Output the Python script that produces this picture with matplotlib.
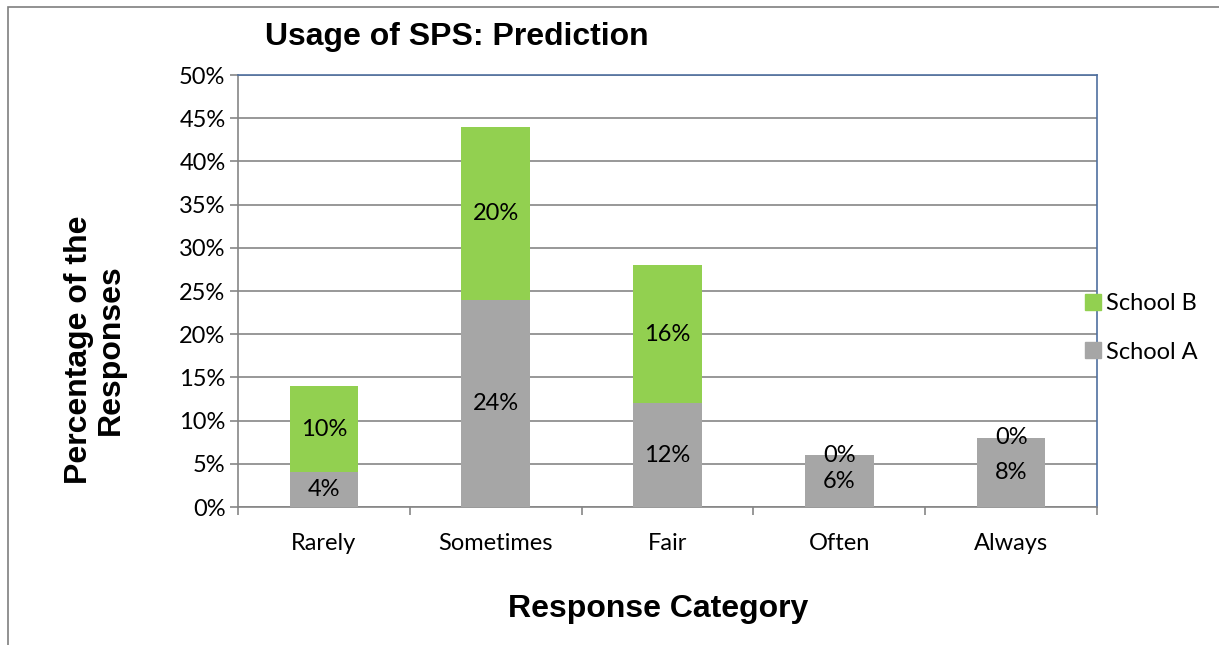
import matplotlib
matplotlib.use("Agg")
import matplotlib.pyplot as plt
import numpy as np
from matplotlib.patches import Rectangle
from matplotlib.lines import Line2D

categories = ["Rarely", "Sometimes", "Fair", "Often", "Always"]
school_a = [4, 24, 12, 6, 8]
school_b = [10, 20, 16, 0, 0]
yticks = [0, 5, 10, 15, 20, 25, 30, 35, 40, 45, 50]

GREEN = "#92D050"
GRAY = "#A6A6A6"
GRID = "#868686"
BLUE = "#4F6FA0"
BODY = "Lato"
BOLD = "Liberation Sans"

fig = plt.figure(figsize=(12.19, 6.45), dpi=100)
ax = fig.add_axes([238 / 1219, 1 - 507 / 645, (1097 - 238) / 1219, (507 - 75) / 645])

# outer chart frame
fig.patches.append(Rectangle((8 / 1219, -0.1), 1.2, (645 - 7) / 645 + 0.1,
                             transform=fig.transFigure, fill=False,
                             edgecolor="#7F7F7F", linewidth=1.2))

x = np.arange(len(categories))
w = 0.4
ax.bar(x, school_a, w, color=GRAY, zorder=3)
ax.bar(x, school_b, w, bottom=school_a, color=GREEN, zorder=3)

for i in range(len(categories)):
    ax.text(x[i], school_a[i] / 2, f"{school_a[i]}%", ha="center", va="center",
            fontsize=17, family=BODY, zorder=4)
    ax.text(x[i], school_a[i] + school_b[i] / 2, f"{school_b[i]}%",
            ha="center", va="center", fontsize=17, family=BODY, zorder=4)

ax.set_xlim(-0.5, len(categories) - 0.5)
ax.set_ylim(0, 50)
ax.set_yticks(yticks)
ax.set_yticklabels([f"{v}%" for v in yticks], family=BODY, fontsize=17)
ax.yaxis.grid(True, color=GRID, linewidth=1.2, zorder=0)
ax.set_axisbelow(True)

ax.set_xticks(x)
ax.set_xticklabels(categories, family=BODY, fontsize=17)
ax.tick_params(axis="x", length=0, pad=19)
ax.set_xticks(np.arange(-0.5, len(categories)), minor=True)
ax.tick_params(axis="x", which="minor", length=6, color=GRID, width=1.2)
ax.tick_params(axis="y", length=6, color=GRID, width=1.2, pad=3)

ax.spines["left"].set_color(GRID)
ax.spines["bottom"].set_color(GRID)
ax.spines["top"].set_color(BLUE)
ax.spines["right"].set_color(BLUE)
for s in ax.spines.values():
    s.set_linewidth(1.2)

fig.text(265 / 1219, 1 - 37 / 645, "Usage of SPS: Prediction", family=BOLD,
         fontweight="bold", fontsize=23, ha="left", va="center")
fig.text(658 / 1219, 1 - 609 / 645, "Response Category", family=BOLD,
         fontweight="bold", fontsize=23, ha="center", va="center")
fig.text(95 / 1219, 1 - 350 / 645, "Percentage of the\nResponses", family=BOLD,
         fontweight="bold", fontsize=23, ha="center", va="center",
         rotation=90, linespacing=1.05)

handles = [Line2D([], [], marker="s", linestyle="none", markersize=12,
                  color=GREEN),
           Line2D([], [], marker="s", linestyle="none", markersize=12,
                  color=GRAY)]
fig.legend(handles, ["School B", "School A"], loc="center left",
           bbox_to_anchor=(1060 / 1219, 1 - 328 / 645), frameon=False,
           prop={"family": BODY, "size": 17}, handletextpad=0.05,
           labelspacing=1.15, handlelength=1.0)

fig.savefig("out.png", dpi=100)
